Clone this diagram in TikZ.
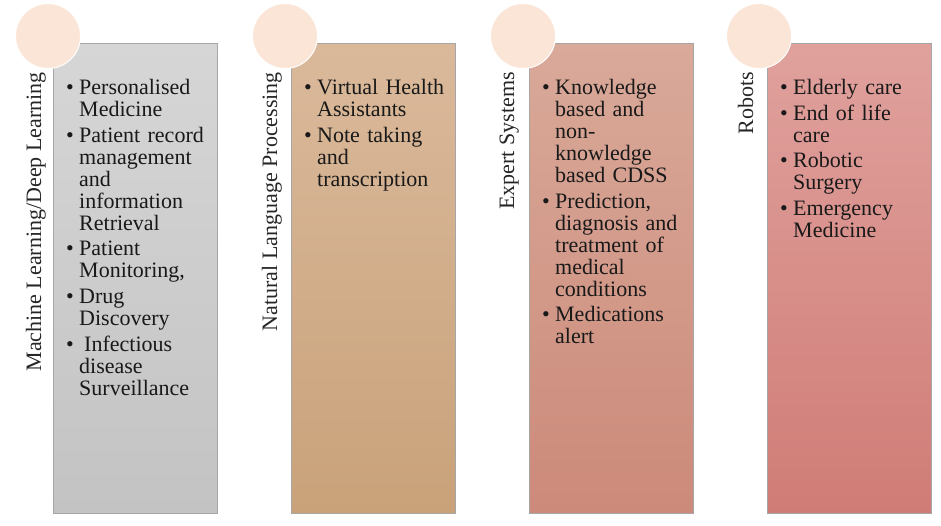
\documentclass[tikz,border=0pt]{standalone}
\usepackage{fontspec}
\setmainfont{Liberation Serif}
\usetikzlibrary{positioning, calc}

\definecolor{peach}{HTML}{FBE5D6}
\definecolor{grayTop}{HTML}{D6D6D6}
\definecolor{grayBot}{HTML}{C3C3C3}
\definecolor{tanTop}{HTML}{DAB99B}
\definecolor{tanBot}{HTML}{C9A27A}
\definecolor{roseTop}{HTML}{D9A999}
\definecolor{roseBot}{HTML}{CC8A7A}
\definecolor{redTop}{HTML}{E0A19D}
\definecolor{redBot}{HTML}{D07C76}

\newcommand{\bul}{\par\hangindent=13pt\hangafter=1\noindent\makebox[13pt][l]{\textbullet}}

\tikzset{
  box/.style={draw=black!35, line width=0.6pt, minimum width=164pt, minimum height=470pt,
    inner sep=0pt, outer sep=0pt},
  dot/.style={circle, minimum size=65pt, inner sep=0pt, fill=peach, draw=white, line width=1pt},
  heading/.style={rotate=90, anchor=base east, inner sep=0pt, text=black!85,
    font=\fontsize{22}{24}\selectfont},
  items/.style={anchor=north west, inner sep=0pt, text width=150pt, align=left, text=black!90,
    font=\fontsize{22}{22}\selectfont\setlength{\parskip}{3.9pt}}
}

\begin{document}
\begin{tikzpicture}[x=1pt, y=1pt, node distance=74pt]
\useasboundingbox (0,0) rectangle (941,-525);

\node[box, top color=grayTop, bottom color=grayBot, anchor=north west] (ml) at (53,-43) {};
\node[box, top color=tanTop, bottom color=tanBot, right=of ml] (nlp) {};
\node[box, top color=roseTop, bottom color=roseBot, right=of nlp] (es) {};
\node[box, top color=redTop, bottom color=redBot, right=of es] (rob) {};

\node[dot] (mlc) at ($(ml.north west)+(-5,7)$) {};
\node[dot] (nlpc) at ($(nlp.north west)+(-6,7)$) {};
\node[dot] (esc) at ($(es.north west)+(-6,7)$) {};
\node[dot] (robc) at ($(rob.north west)+(-8,7)$) {};

\node[heading] (mlh) at ($(ml.north west)+(-12,-29)$) {Machine Learning/Deep Learning};
\node[heading] (nlph) at ($(nlp.north west)+(-14,-29)$) {Natural Language Processing};
\node[heading] (esh) at ($(es.north west)+(-15,-29)$) {Expert Systems};
\node[heading] (robh) at ($(rob.north west)+(-14,-29)$) {Robots};

\node[items] (mlt) at ($(ml.north west)+(13,-25)$) {%
  \bul Personalised\newline Medicine
  \bul Patient record\newline management\newline and\newline information\newline Retrieval
  \bul Patient\newline Monitoring,
  \bul Drug\newline Discovery
  \bul \hspace{5pt}Infectious\newline disease\newline Surveillance\par};
\node[items] (nlpt) at ($(nlp.north west)+(13,-25)$) {%
  \bul Virtual Health\newline Assistants
  \bul Note taking\newline and\newline transcription\par};
\node[items] (est) at ($(es.north west)+(13,-25)$) {%
  \bul Knowledge\newline based and\newline non-\newline knowledge\newline based CDSS
  \bul Prediction,\newline diagnosis and\newline treatment of\newline medical\newline conditions
  \bul Medications\newline alert\par};
\node[items] (robt) at ($(rob.north west)+(13,-25)$) {%
  \bul Elderly care
  \bul End of life\newline care
  \bul Robotic\newline Surgery
  \bul Emergency\newline Medicine\par};
\end{tikzpicture}
\end{document}
